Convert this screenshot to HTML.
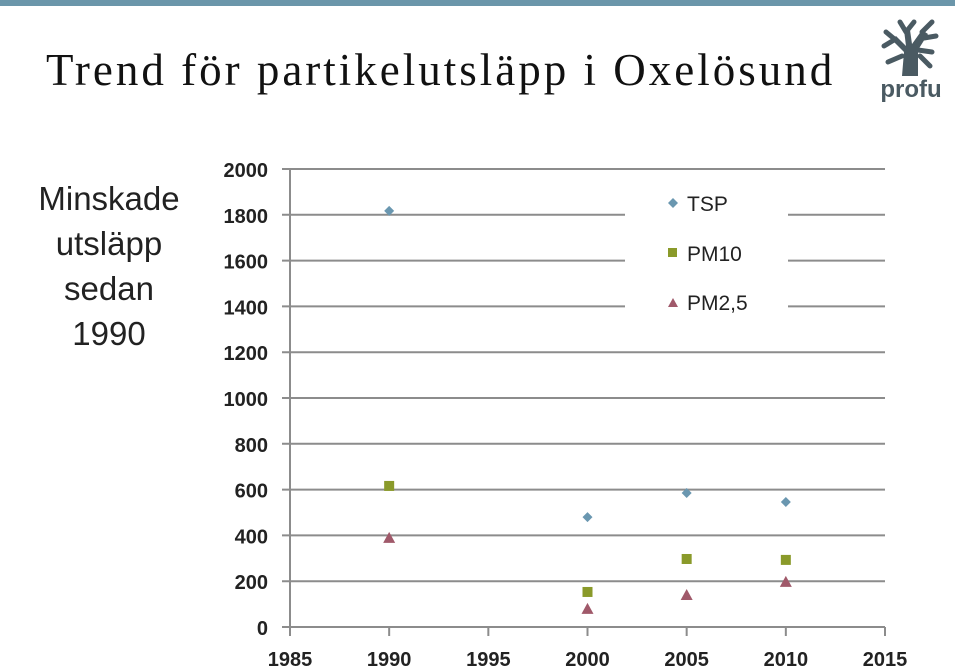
<!DOCTYPE html>
<html><head><meta charset="utf-8"><style>
body{margin:0;width:960px;height:668px;background:#fff;overflow:hidden;position:relative;font-family:"Liberation Sans",sans-serif}
#bar{position:absolute;left:0;top:0;width:955px;height:6px;background:#6b96aa}
#title{position:absolute;left:46px;top:44px;font-family:"Liberation Serif",serif;font-size:45px;color:#111;letter-spacing:3px;white-space:nowrap}
#side{position:absolute;left:26px;top:176px;width:166px;text-align:center;font-size:33px;line-height:45px;color:#222}
svg{position:absolute;left:0;top:0}
</style></head><body>
<div id="bar"></div>
<div id="title">Trend för partikelutsläpp i Oxelösund</div>
<div id="side">Minskade utsläpp sedan 1990</div>
<svg width="960" height="668" id="chart">
<g fill="#4a5a62" stroke="#4a5a62" stroke-linecap="round">
<path d="M902 76 L904 52 L892 40 L896 36 L906 46 L904 30 L910 30 L912 44 L922 30 L928 34 L918 50 L918 76 Z" stroke="none"/>
<g stroke-width="5" fill="none">
<path d="M898 42 L886 32 M894 40 L884 46 M906 32 L900 22 M906 32 L914 22 M922 32 L932 22 M924 38 L936 36 M918 50 L932 52 M920 56 L930 66 M902 56 L888 62"/>
</g>
<text x="911" y="97" text-anchor="middle" font-size="24" font-weight="bold" stroke="none" font-family="Liberation Sans">profu</text>
</g>
<g id="grid"></g><g id="axes"></g><g id="pts"></g>
<g>
<rect x="625" y="185" width="163" height="140" fill="#fff"/>
<path d="M673 198 L678 203 L673 208 L668 203 Z" fill="#6a97b0"/>
<text x="687" y="211" font-size="21" fill="#222">TSP</text>
<rect x="668" y="248" width="9" height="9" fill="#8a9a2a"/>
<text x="687" y="261" font-size="21" fill="#222">PM10</text>
<path d="M668 307 L678 307 L673 298 Z" fill="#a0596a"/>
<text x="687" y="310" font-size="21" fill="#222">PM2,5</text>
</g>
</svg>
<script>
const years=[1990,2000,2005,2010];
const tsp=[1817,480,585,546];
const pm10=[616,153,297,293];
const pm25=[389,79,140,197];
const yTicks=[0,200,400,600,800,1000,1200,1400,1600,1800,2000];
const xTicks=[1985,1990,1995,2000,2005,2010,2015];
const NS="http://www.w3.org/2000/svg";
const X=v=>290+(v-1985)*(595/30);
const Y=v=>627-v*(458/2000);
function mk(t,a,p){const e=document.createElementNS(NS,t);for(const k in a)e.setAttribute(k,a[k]);document.getElementById(p).appendChild(e);return e;}
yTicks.forEach(v=>{
 if(v>0){const l=mk('line',{x1:282,x2:885,y1:Y(v),y2:Y(v),stroke:'#8c8c8c','stroke-width':2},'grid');
 
 }
 const t=mk('text',{x:268,y:Y(v)+8,'text-anchor':'end','font-size':20,'font-weight':'bold',fill:'#222'},'axes');t.textContent=v;
 
 
});
mk('line',{x1:290,x2:290,y1:Y(2000),y2:627,stroke:'#8c8c8c','stroke-width':2},'axes');
mk('line',{x1:282,x2:885,y1:627,y2:627,stroke:'#8c8c8c','stroke-width':2},'axes');
xTicks.forEach(v=>{
 mk('line',{x1:X(v),x2:X(v),y1:627,y2:636,stroke:'#8c8c8c','stroke-width':2},'axes');
 const t=mk('text',{x:X(v),y:666,'text-anchor':'middle','font-size':20,'font-weight':'bold',fill:'#222'},'axes');t.textContent=v;
 
 
});
years.forEach((yr,i)=>{
 const x=X(yr);
 let y=Y(tsp[i]);
 const a=mk('path',{d:`M${x} ${y-5}L${x+5} ${y}L${x} ${y+5}L${x-5} ${y}Z`,fill:'#6a97b0'},'pts');
 
 
 y=Y(pm10[i]);
 const b=mk('rect',{x:x-5,y:y-5,width:10,height:10,fill:'#8a9a2a'},'pts');
 
 
 y=Y(pm25[i]);
 const c=mk('path',{d:`M${x-6} ${y+5}L${x+6} ${y+5}L${x} ${y-6}Z`,fill:'#a0596a'},'pts');
 
 
});
</script>
</body></html>
